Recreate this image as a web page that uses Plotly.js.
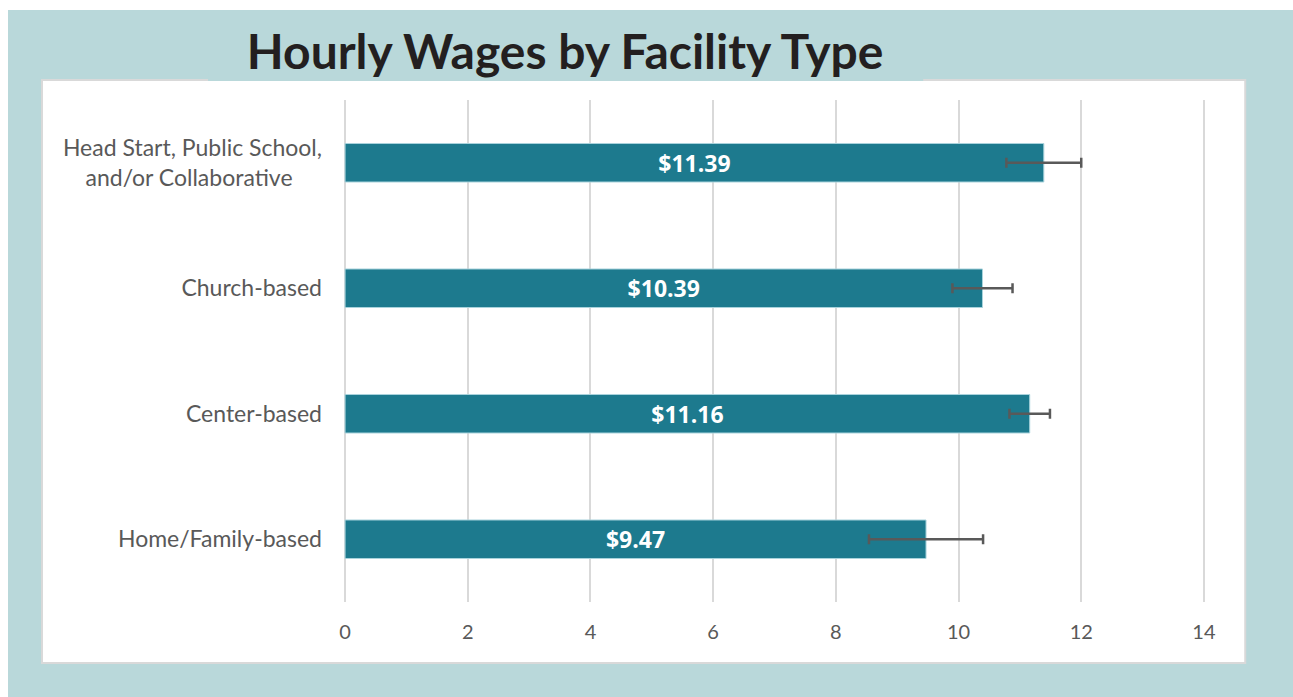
<!DOCTYPE html>
<html>
<head>
<meta charset="utf-8">
<script src="https://cdn.plot.ly/plotly-3.0.1.min.js"></script>
<style>
  html, body { margin: 0; padding: 0; background: #ffffff; }
  #chart { width: 1293px; height: 697px; }
</style>
</head>
<body>
<div id="chart"></div>
<script>
// ---- Data ----
const categories = [
  "Head Start, Public School, and/or Collaborative",
  "Church-based",
  "Center-based",
  "Home/Family-based"
];
const tickLabels = [
  "Head Start, Public School,<br>and/or Collaborative\u00a0\u00a0\u00a0\u00a0\u00a0",
  "Church-based",
  "Center-based",
  "Home/Family-based"
];
const wages = [11.39, 10.39, 11.16, 9.47];
const errors = [0.61, 0.49, 0.33, 0.93];
const xTicks = [0, 2, 4, 6, 8, 10, 12, 14];
const xRange = [-0.05, 14.05];

// ---- Layout helpers (pixel -> paper) ----
const W = 1293, H = 697;
const X0PX = 345, X14PX = 1203.7;           // pixel positions of 0 and 14
const ppu = (X14PX - X0PX) / 14;
const L = X0PX + xRange[0] * ppu;
const R = X0PX + xRange[1] * ppu;
const T = 100, B = 602;
const px = v => (v - L) / (R - L);
const py = v => (B - v) / (B - T);

const trace = {
  type: "bar",
  orientation: "h",
  y: categories,
  x: wages,
  width: 0.307,
  marker: { color: "#1d7a8e", line: { color: "#a9d3dc", width: 1 } },
  text: wages.map(v => "$" + v.toFixed(2)),
  textposition: "inside",
  insidetextanchor: "middle",
  textangle: 0,
  constraintext: "none",
  textfont: { family: "Open Sans, sans-serif", size: 23, color: "#ffffff", weight: "bold" },
  error_x: {
    type: "data",
    array: errors,
    visible: true,
    color: "#595959",
    thickness: 2.5,
    width: 5
  },
  hoverinfo: "skip"
};

const layout = {
  width: W,
  height: H,
  margin: { l: L, r: W - R, t: T, b: H - B },
  paper_bgcolor: "#ffffff",
  plot_bgcolor: "rgba(0,0,0,0)",
  showlegend: false,
  title: {
    text: "<b>Hourly Wages by Facility Type</b>",
    font: { family: "Lato, sans-serif", size: 48, color: "#231f20", weight: 900 },
    xref: "paper",
    x: px(565),
    xanchor: "center",
    yref: "container",
    y: 1 - 52 / H,
    yanchor: "middle"
  },
  xaxis: {
    range: xRange,
    tickvals: xTicks,
    ticktext: xTicks.map(String),
    showgrid: true,
    gridcolor: "#d9d9d9",
    gridwidth: 2,
    zeroline: true,
    zerolinecolor: "#d9d9d9",
    zerolinewidth: 2,
    showline: false,
    ticks: "",
    ticklabelstandoff: 16,
    tickfont: { family: "Lato, sans-serif", size: 20, color: "#595959" },
    fixedrange: true
  },
  yaxis: {
    type: "category",
    categoryorder: "array",
    categoryarray: categories,
    tickvals: categories,
    ticktext: tickLabels,
    range: [3.5, -0.5],
    showgrid: false,
    zeroline: false,
    showline: false,
    ticks: "",
    ticklabelstandoff: 19,
    tickfont: { family: "Lato, sans-serif", size: 23, color: "#595959" },
    fixedrange: true
  },
  shapes: [
    // teal background
    { type: "rect", xref: "paper", yref: "paper", layer: "below",
      x0: px(8), x1: px(1293), y0: py(697), y1: py(10),
      fillcolor: "#b9d8da", line: { width: 0 } },
    // white panel
    { type: "rect", xref: "paper", yref: "paper", layer: "below",
      x0: px(42), x1: px(1245), y0: py(663), y1: py(80),
      fillcolor: "#ffffff", line: { color: "#d9d9d9", width: 2 } },
    // title strip overlapping the panel top
    { type: "rect", xref: "paper", yref: "paper", layer: "below",
      x0: px(208), x1: px(923), y0: py(81), y1: py(70),
      fillcolor: "#b9d8da", line: { width: 0 } }
  ]
};

Plotly.newPlot("chart", [trace], layout, { displayModeBar: false, staticPlot: true });
</script>
</body>
</html>
